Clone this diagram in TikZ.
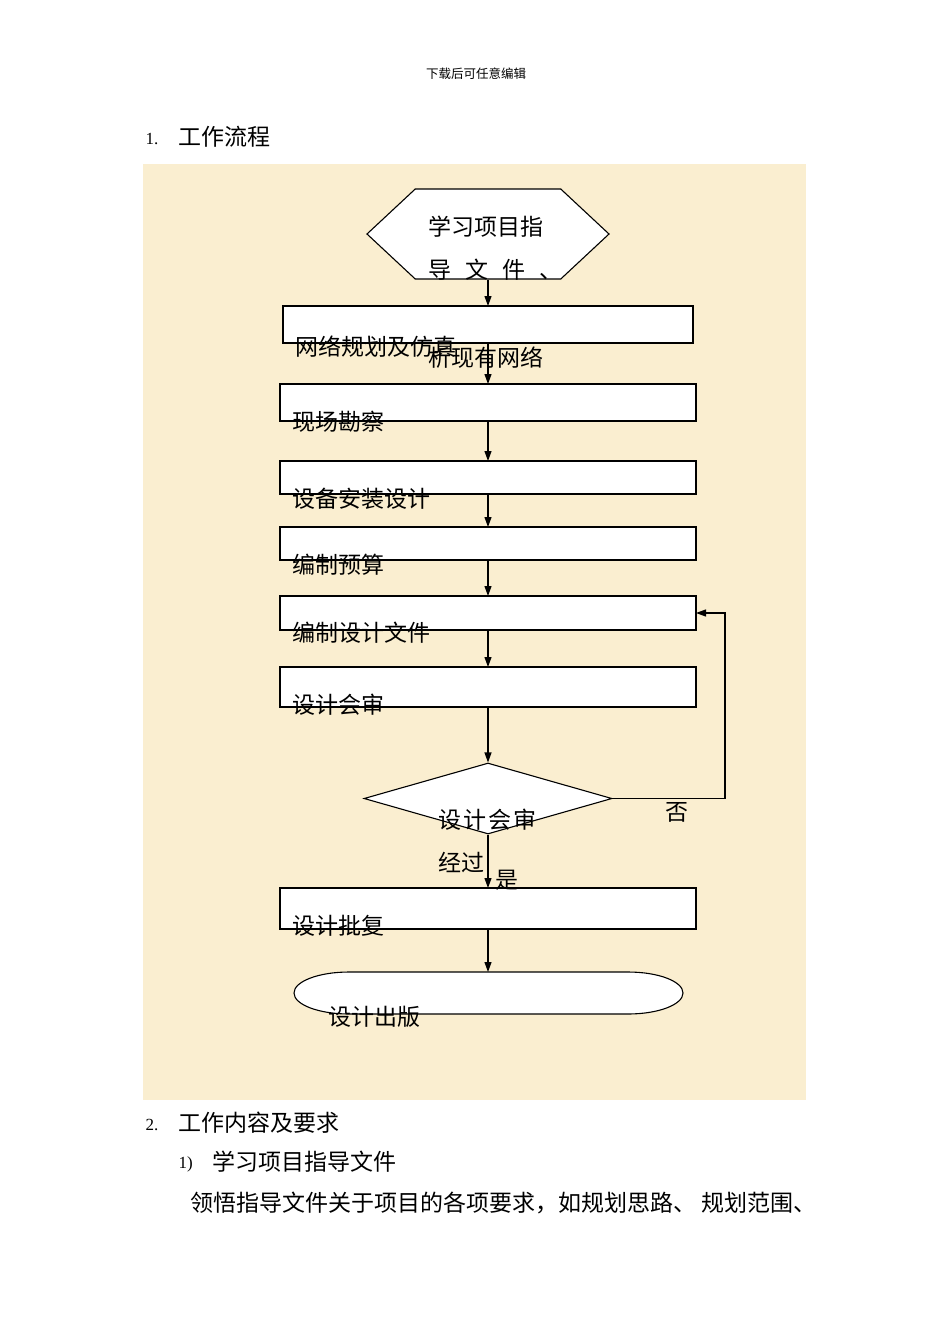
\documentclass[tikz,border=0pt]{standalone}
\usepackage{fontspec}
\setmainfont{Liberation Serif}
\newfontfamily\cjk{Noto Sans CJK SC}
\usetikzlibrary{arrows.meta,shapes.geometric,shapes.symbols}

\definecolor{parch}{RGB}{250,238,208}

\begin{document}
\begin{tikzpicture}[x=1pt,y=-1pt,>={Triangle[length=10pt,width=7pt]},line width=1.1pt,
  box/.style={rectangle,draw,fill=white,inner sep=0pt,outer sep=0pt,minimum width=416pt},
  lbl/.style={anchor=west,inner sep=0pt,font=\cjk\fontsize{23}{23}\selectfont},
  num/.style={anchor=west,inner sep=0pt,font=\fontsize{17}{17}\selectfont}]

  \useasboundingbox (0,0) rectangle (950,1344);
  \fill[parch] (143,164) rectangle (806,1100);

  % page text round the chart
  \node[inner sep=0pt,font=\cjk\fontsize{12.5}{12.5}\selectfont] (head) at (476,74) {下载后可任意编辑};
  \node[num] (n1) at (145,139) {1.};
  \node[lbl] (title1) at (178,137) {工作流程};
  \node[num] (n2) at (145,1125) {2.};
  \node[lbl] (title2) at (178,1123) {工作内容及要求};
  \node[num] (n3) at (178,1164) {1)};
  \node[lbl] (sub1) at (212,1162) {学习项目指导文件};
  \node[lbl] (para) at (190,1203) {领悟指导文件关于项目的各项要求，如规划思路、\ 规划范围、};

  % the shapes
  \node[signal,signal to=west and east,signal pointer angle=86,draw,fill=white,
    inner sep=0pt,minimum width=242pt,minimum height=90pt] (hex) at (488,234) {};
  \node[box,minimum width=410pt,minimum height=37pt] (plan) at (488,324.5) {};
  \node[box,minimum height=37pt] (survey) at (488,402.5) {};
  \node[box,minimum height=33pt] (install) at (488,477.5) {};
  \node[box,minimum height=33pt] (budget) at (488,543.5) {};
  \node[box,minimum height=34pt] (docs) at (488,613) {};
  \node[box,minimum height=40pt] (review) at (488,687) {};
  \node[diamond,draw,fill=white,inner sep=0pt,minimum width=248pt,minimum height=71pt] (check) at (488,798.5) {};
  \node[box,minimum height=41pt] (approve) at (488,908.5) {};
  \draw[fill=white] (349,972) -- (628,972) arc[start angle=90,end angle=-90,x radius=55pt,y radius=21pt]
    -- (349,1014) arc[start angle=270,end angle=90,x radius=55pt,y radius=21pt] -- cycle;
  \coordinate (publish) at (488,972);
  \coordinate (turn) at (725,613);

  % texts, set low and to the left as in the chart
  \node[lbl] (thex1) at (428,227) {学习项目指};
  \node[lbl] (thex2) at (428,270) {导\hspace{14pt}文\hspace{14pt}件\hspace{14pt}、};
  \node[lbl] (thex3) at (428,358) {析现有网络};
  \node[lbl] (tplan) at (295,347) {网络规划及仿真};
  \node[lbl] (tsurvey) at (292,422) {现场勘察};
  \node[lbl] (tinstall) at (292,499) {设备安装设计};
  \node[lbl] (tbudget) at (292,565) {编制预算};
  \node[lbl] (tdocs) at (292,633) {编制设计文件};
  \node[lbl] (treview) at (292,705) {设计会审};
  \node[lbl] (tcheck1) at (438,820) {设\hspace{2pt}计\hspace{2pt}会\hspace{2pt}审};
  \node[lbl] (tcheck2) at (438,862) {经过};
  \node[lbl] (tyes) at (495,880) {是};
  \node[lbl] (tno) at (665,812) {否};
  \node[lbl] (tapprove) at (292,926) {设计批复};
  \node[lbl] (tpublish) at (328,1017) {设计出版};

  % connectors
  \path[->]
    (hex.south) edge (plan.north)
    (plan.south) edge (survey.north)
    (survey.south) edge (install.north)
    (install.south) edge (budget.north)
    (budget.south) edge (docs.north)
    (docs.south) edge (review.north)
    (review.south) edge (check.north)
    (check.south) edge (approve.north)
    (approve.south) edge (publish);
  \draw[->] (check.east) -| (turn) -- (docs.east);
\end{tikzpicture}
\end{document}
